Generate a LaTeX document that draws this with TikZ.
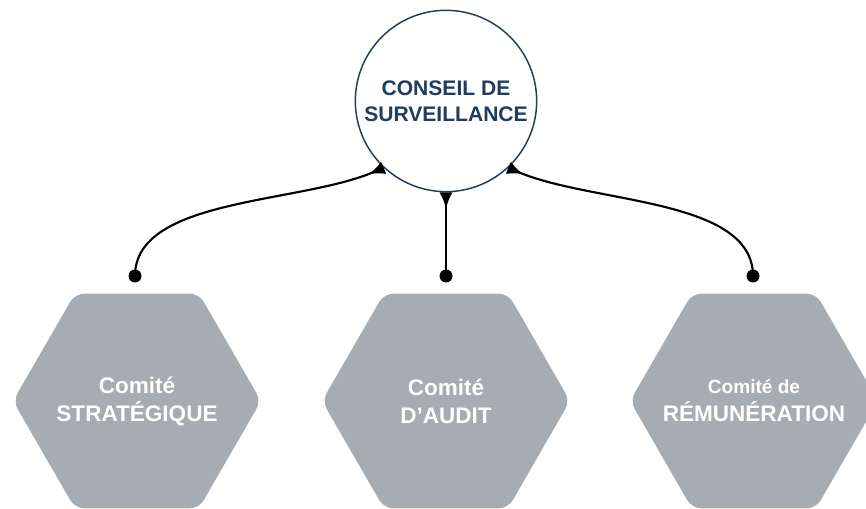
\documentclass[tikz,border=0pt]{standalone}
\usepackage{fontspec}
\setmainfont{Liberation Sans}
\usepackage{xcolor}
\usepackage{tikz}
\usetikzlibrary{shapes.geometric,arrows.meta}
\definecolor{blu}{HTML}{1E3D5F}
\definecolor{grigio}{HTML}{A5ACB3}

\begin{document}
\begin{tikzpicture}[x=0.75pt,y=-0.75pt,
    consiglio/.style={circle,draw=blu,line width=1.1pt,fill=white,minimum size=136pt,
      inner sep=0pt,align=center,text=blu,font=\bfseries\fontsize{15.8}{19.5}\selectfont},
    comitato/.style={regular polygon,regular polygon sides=6,minimum size=186pt,
      fill=grigio,rounded corners=7pt,inner sep=0pt},
    testo/.style={align=center,text=white,inner sep=0pt,
      font=\bfseries\fontsize{16.9}{21}\selectfont},
    punto/.style={circle,fill=black,minimum size=9.75pt,inner sep=0pt},
    freccia/.style={line width=1.6pt,-{Latex[reversed,length=12pt,width=10pt]}}]
    \useasboundingbox (0,0) rectangle (866,509);
    % consiglio
    \node[consiglio] (cs) at (446,101) {CONSEIL DE\\SURVEILLANCE};
    % comitati
    \node[comitato,label={[testo]center:Comité\\STRATÉGIQUE}] (strat) at (137,401) {};
    \node[comitato,label={[testo]center:Comité\\D’AUDIT}] (audit) at (446,401) {};
    \node[comitato,label={[testo]center:{\fontsize{14.3}{21}\selectfont Comité de}\\RÉMUNÉRATION}] (remu) at (754,401) {};
    % punti di attacco
    \node[punto] (p1) at (135,276) {};
    \node[punto] (p2) at (446,276) {};
    \node[punto] (p3) at (753,276) {};
    % collegamenti
    \draw[freccia] (p1.center) .. controls +(0,-78) and +(-85,36) .. (cs.227);
    \draw[freccia] (p2.center) -- (cs);
    \draw[freccia] (p3.center) .. controls +(0,-78) and +(85,36) .. (cs.313);
\end{tikzpicture}
\end{document}
